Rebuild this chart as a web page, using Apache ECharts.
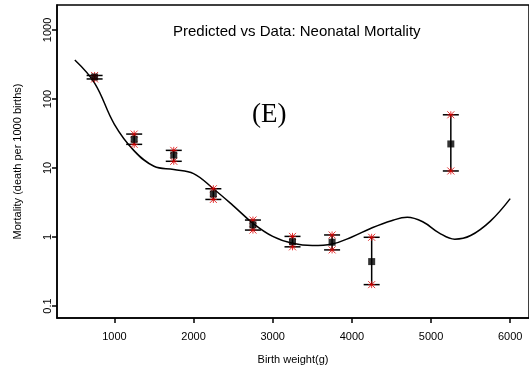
<!DOCTYPE html>
<html>
<head>
<meta charset="utf-8">
<script src="https://cdn.jsdelivr.net/npm/echarts@6/dist/echarts.min.js"></script>
<style>
  html, body { margin: 0; padding: 0; background: #fff; }
  #chart { width: 529px; height: 370px; }
</style>
</head>
<body>
<div id="chart"></div>
<script>
// observed data (birth weight bins) with error bars
const weights = [750, 1250, 1750, 2250, 2750, 3250, 3750, 4250, 5250];
const mortality = [208, 26, 15.4, 4.2, 1.5, 0.855, 0.84, 0.44, 22.3];
const upper = [219, 31, 18, 5.0, 1.76, 1.02, 1.07, 0.99, 59];
const lower = [195, 22, 12.5, 3.5, 1.26, 0.72, 0.65, 0.204, 9.05];

// predicted curve
const curveX = [500, 750, 1000, 1250, 1500, 1750, 2000, 2250, 2500, 2750, 3000, 3250, 3500, 3750, 4000, 4250, 4500, 4700, 4900, 5100, 5300, 5500, 5750, 6000];
const curveY = [367, 170, 43, 17.7, 10.6, 9.5, 8.3, 5.0, 2.85, 1.58, 1.02, 0.81, 0.75, 0.79, 1.0, 1.35, 1.72, 1.93, 1.65, 1.15, 0.93, 1.05, 1.7, 3.6];

const xTicks = [1000, 2000, 3000, 4000, 5000, 6000];
const yTicks = [0.1, 1, 10, 100, 1000];

let chart = echarts.init(document.getElementById('chart'));

let barData = weights.map(function (w, i) { return [w, lower[i], upper[i]]; });

chart.setOption({
	animation: false,
	textStyle: { fontFamily: 'Liberation Sans, Arial, sans-serif' },
	grid: {
		left: 57, top: 5, right: -5, bottom: 52,
		show: true, borderColor: '#000', borderWidth: 1.5
	},
	graphic: [{
		type: 'text', left: 173, top: 24,
		style: { text: 'Predicted vs Data: Neonatal Mortality', fontSize: 15, fill: '#000', fontFamily: 'Liberation Sans, Arial, sans-serif' }
	}, {
		type: 'text', left: 252, top: 101,
		style: { text: '(E)', fontSize: 27, fill: '#000', fontFamily: 'Liberation Serif, Times New Roman, serif' }
	}],
	xAxis: {
		type: 'value', min: 275, max: 6237.5,
		name: 'Birth weight(g)', nameLocation: 'middle', nameGap: 36,
		nameTextStyle: { fontSize: 11, color: '#000' },
		axisLine: { lineStyle: { color: '#000', width: 1.5 } },
		axisTick: { length: 5, lineStyle: { color: '#000', width: 1.5 }, customValues: xTicks },
		axisLabel: { fontSize: 11, color: '#000', margin: 13, customValues: xTicks,
			formatter: function (v) { return String(v); } },
		splitLine: { show: false }
	},
	yAxis: {
		type: 'log', logBase: 10, min: 0.067, max: 2300,
		name: 'Mortality (death per 1000 births)', nameLocation: 'middle', nameGap: 34,
		nameRotate: 90,
		nameTextStyle: { fontSize: 11, color: '#000' },
		axisLine: { lineStyle: { color: '#000', width: 1.5 } },
		axisTick: { length: 5, lineStyle: { color: '#000', width: 1.5 }, customValues: yTicks },
		axisLabel: { fontSize: 11, color: '#000', rotate: 90, margin: 4, customValues: yTicks,
			formatter: function (v) { return String(v); } },
		splitLine: { show: false }
	},
	series: [{
		type: 'line',
		data: curveX.map(function (x, i) { return [x, curveY[i]]; }),
		smooth: 0.4,
		showSymbol: false,
		lineStyle: { color: '#000', width: 1.5 },
		z: 2
	}, {
		type: 'custom',
		data: barData,
		z: 3,
		renderItem: function (params, api) {
			let lo = api.coord([api.value(0), api.value(1)]);
			let hi = api.coord([api.value(0), api.value(2)]);
			let hw = 8;
			let kids = [
				{ type: 'line', shape: { x1: lo[0], y1: lo[1], x2: hi[0], y2: hi[1] }, style: { stroke: '#000', lineWidth: 1.5 } },
				{ type: 'line', shape: { x1: lo[0] - hw, y1: lo[1], x2: lo[0] + hw, y2: lo[1] }, style: { stroke: '#000', lineWidth: 1.5 } },
				{ type: 'line', shape: { x1: hi[0] - hw, y1: hi[1], x2: hi[0] + hw, y2: hi[1] }, style: { stroke: '#000', lineWidth: 1.5 } }
			];
			// red asterisks at both ends
			[lo, hi].forEach(function (p) {
				let r = 3.5;
				kids.push({ type: 'line', shape: { x1: p[0], y1: p[1] - r, x2: p[0], y2: p[1] + r }, style: { stroke: '#e00000', lineWidth: 0.8 } });
				kids.push({ type: 'line', shape: { x1: p[0] - r, y1: p[1] - r, x2: p[0] + r, y2: p[1] + r }, style: { stroke: '#e00000', lineWidth: 0.8 } });
				kids.push({ type: 'line', shape: { x1: p[0] - r, y1: p[1] + r, x2: p[0] + r, y2: p[1] - r }, style: { stroke: '#e00000', lineWidth: 0.8 } });
				kids.push({ type: 'line', shape: { x1: p[0] - r, y1: p[1], x2: p[0] + r, y2: p[1] }, style: { stroke: '#e00000', lineWidth: 0.8 } });
			});
			return { type: 'group', children: kids };
		}
	}, {
		type: 'scatter',
		data: weights.map(function (w, i) { return [w, mortality[i]]; }),
		symbol: 'rect',
		symbolSize: 7,
		itemStyle: { color: '#000' },
		z: 4
	}]
});
</script>
</body>
</html>
